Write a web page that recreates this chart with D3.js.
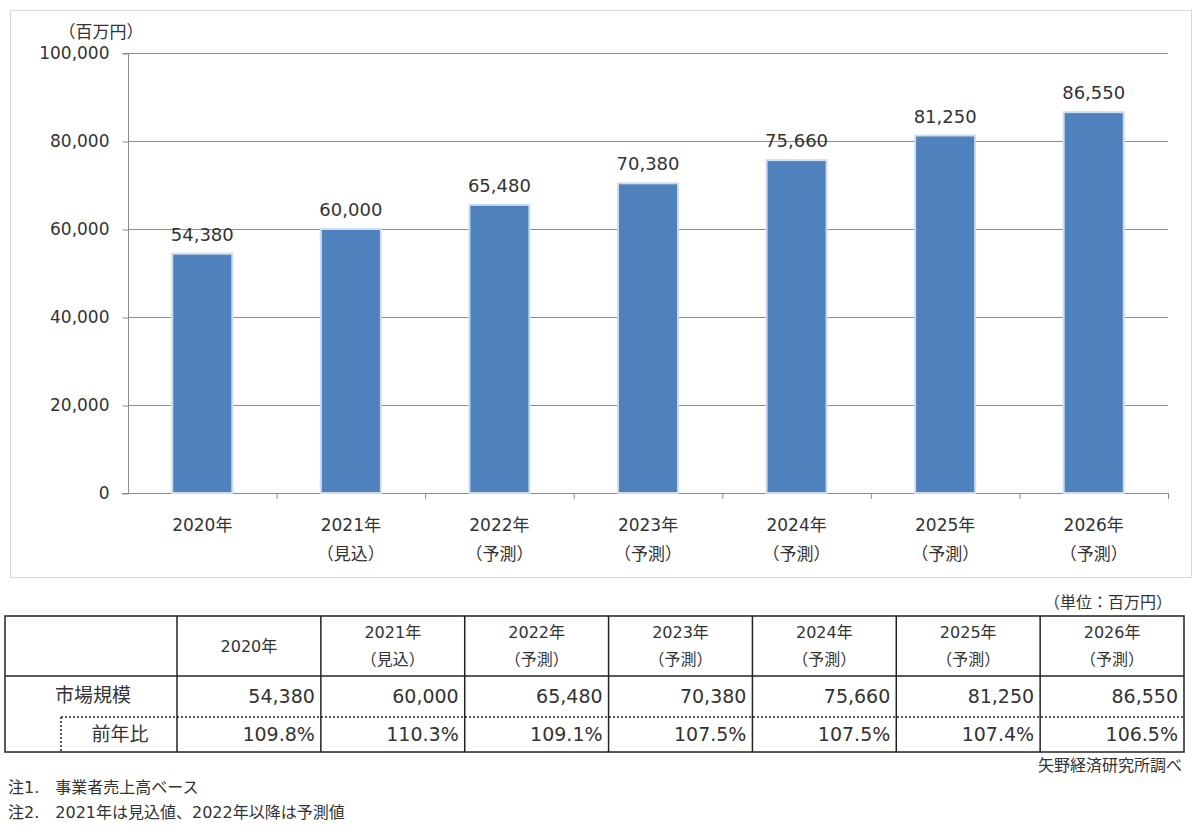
<!DOCTYPE html>
<html>
<head>
<meta charset="utf-8">
<script src="https://cdn.jsdelivr.net/npm/d3@7"></script>
<style>
  body { margin: 0; background: #fff; }
  text { font-family: "DejaVu Sans", "Noto Sans CJK JP", sans-serif; fill: #333; }
</style>
</head>
<body>
<div id="chart"></div>
<script>
// data
var years = ["2020年", "2021年", "2022年", "2023年", "2024年", "2025年", "2026年"];
var yearNotes = ["", "（見込）", "（予測）", "（予測）", "（予測）", "（予測）", "（予測）"];
var marketSize = [54380, 60000, 65480, 70380, 75660, 81250, 86550];
var yoy = ["109.8%", "110.3%", "109.1%", "107.5%", "107.5%", "107.4%", "106.5%"];
var yTicks = [0, 20000, 40000, 60000, 80000, 100000];
var notes = ["注1.\u3000事業者売上高ベース", "注2.\u30002021年は見込値、2022年以降は予測値"];

var svgWidth = 1200;
var svgHeight = 830;

var svg = d3.select("#chart")
  .append("svg")
  .attr("width", svgWidth)
  .attr("height", svgHeight);

// chart frame
svg.append("rect")
  .attr("x", 10.5).attr("y", 10.5)
  .attr("width", 1181).attr("height", 567)
  .attr("fill", "#fff")
  .attr("stroke", "#d9d9d9");

var plot = { left: 128, right: 1168, top: 53, bottom: 493 };

var x = d3.scaleBand()
  .domain(years)
  .range([plot.left, plot.right]);

var y = d3.scaleLinear()
  .domain([0, 100000])
  .range([plot.bottom, plot.top]);

// gridlines
svg.append("g").selectAll("line")
  .data(yTicks.filter(d => d > 0))
  .enter()
  .append("line")
  .attr("x1", plot.left).attr("x2", plot.right)
  .attr("y1", d => y(d) + 0.5).attr("y2", d => y(d) + 0.5)
  .attr("stroke", "#8c8c8c");

// y axis
var leftAxis = d3.axisLeft(y)
  .tickValues(yTicks)
  .tickSize(6)
  .tickPadding(13)
  .tickFormat(d3.format(","));
var yAxisG = svg.append("g")
  .attr("transform", `translate(${plot.left + 0.5},0.5)`)
  .call(leftAxis);
yAxisG.select(".domain").attr("stroke", "#8c8c8c").attr("d", `M-6,${plot.top}H0V${plot.bottom}`);
yAxisG.selectAll(".tick line").attr("stroke", "#8c8c8c");
yAxisG.selectAll(".tick text")
  .attr("font-size", 17)
  .attr("fill", "#333")
  .style("font-family", "'DejaVu Sans', sans-serif");

// x axis baseline with boundary ticks
var xAxisG = svg.append("g");
xAxisG.append("line")
  .attr("x1", plot.left - 6).attr("x2", plot.right)
  .attr("y1", plot.bottom + 0.5).attr("y2", plot.bottom + 0.5)
  .attr("stroke", "#8c8c8c");
xAxisG.selectAll("line.bound")
  .data(years)
  .enter()
  .append("line")
  .attr("class", "bound")
  .attr("x1", d => x(d) + x.bandwidth() + 0.5)
  .attr("x2", d => x(d) + x.bandwidth() + 0.5)
  .attr("y1", plot.bottom).attr("y2", plot.bottom + 6)
  .attr("stroke", "#8c8c8c");

// x labels
var xl = svg.append("g").selectAll("g")
  .data(years)
  .enter()
  .append("g")
  .attr("transform", d => `translate(${x(d) + x.bandwidth() / 2},0)`);
xl.append("text")
  .attr("y", 531)
  .attr("text-anchor", "middle")
  .attr("font-size", 17)
  .text(d => d);
xl.append("text")
  .attr("y", 560)
  .attr("text-anchor", "middle")
  .attr("font-size", 17)
  .text((d, i) => yearNotes[i]);

// unit label
svg.append("text")
  .attr("x", 101).attr("y", 38)
  .attr("text-anchor", "middle")
  .attr("font-size", 17)
  .text("（百万円）");

// bars
var barW = 60;
svg.append("g").selectAll("rect")
  .data(marketSize)
  .enter()
  .append("rect")
  .attr("x", (d, i) => x(years[i]) + x.bandwidth() / 2 - barW / 2)
  .attr("y", d => y(d))
  .attr("width", barW)
  .attr("height", d => y(0) - y(d))
  .attr("fill", "#4f81bd")
  .attr("stroke", "#cfdcec")
  .attr("stroke-width", 2);

// value labels
svg.append("g").selectAll("text")
  .data(marketSize)
  .enter()
  .append("text")
  .attr("x", (d, i) => x(years[i]) + x.bandwidth() / 2)
  .attr("y", d => y(d) - 13)
  .attr("text-anchor", "middle")
  .attr("font-size", 18)
  .text(d => d3.format(",")(d));

// table
var tbl = { left: 5, firstCol: 177, right: 1184, top: 616, head: 676, mid: 717, bottom: 752 };
var col = d3.scaleBand()
  .domain(years)
  .range([tbl.firstCol, tbl.right]);

svg.append("text")
  .attr("x", 1172).attr("y", 608)
  .attr("text-anchor", "end")
  .attr("font-size", 16)
  .text("（単位：百万円）");

var tg = svg.append("g");
tg.append("rect")
  .attr("x", tbl.left).attr("y", tbl.top)
  .attr("width", tbl.right - tbl.left).attr("height", tbl.bottom - tbl.top)
  .attr("fill", "none").attr("stroke", "#222").attr("stroke-width", 1.5);
tg.append("line")
  .attr("x1", tbl.left).attr("x2", tbl.right)
  .attr("y1", tbl.head).attr("y2", tbl.head)
  .attr("stroke", "#222").attr("stroke-width", 1.5);
tg.selectAll("line.col")
  .data(years)
  .enter()
  .append("line")
  .attr("class", "col")
  .attr("x1", d => col(d)).attr("x2", d => col(d))
  .attr("y1", tbl.top).attr("y2", tbl.bottom)
  .attr("stroke", "#222").attr("stroke-width", 1.5);
tg.append("line")
  .attr("x1", 61).attr("x2", tbl.right)
  .attr("y1", tbl.mid).attr("y2", tbl.mid)
  .attr("stroke", "#222").attr("stroke-width", 1.5)
  .attr("stroke-dasharray", "2,2");
tg.append("line")
  .attr("x1", 61).attr("x2", 61)
  .attr("y1", tbl.mid).attr("y2", tbl.bottom)
  .attr("stroke", "#222").attr("stroke-width", 1.5)
  .attr("stroke-dasharray", "2,2");

// header
var hd = tg.selectAll("g.hd")
  .data(years)
  .enter()
  .append("g")
  .attr("class", "hd")
  .attr("transform", d => `translate(${col(d) + col.bandwidth() / 2},0)`);
hd.append("text")
  .attr("y", (d, i) => yearNotes[i] ? 638 : 652)
  .attr("text-anchor", "middle")
  .attr("font-size", 16)
  .text(d => d);
hd.append("text")
  .attr("y", 665)
  .attr("text-anchor", "middle")
  .attr("font-size", 16)
  .text((d, i) => yearNotes[i]);

// row labels
tg.append("text")
  .attr("x", 93).attr("y", 702)
  .attr("text-anchor", "middle")
  .attr("font-size", 19)
  .text("市場規模");
tg.append("text")
  .attr("x", 120).attr("y", 741)
  .attr("text-anchor", "middle")
  .attr("font-size", 19)
  .text("前年比");

// row values
tg.selectAll("text.v1")
  .data(marketSize)
  .enter()
  .append("text")
  .attr("class", "v1")
  .attr("x", (d, i) => col(years[i]) + col.bandwidth() - 6)
  .attr("y", 703)
  .attr("text-anchor", "end")
  .attr("font-size", 19)
  .text(d => d3.format(",")(d));
tg.selectAll("text.v2")
  .data(yoy)
  .enter()
  .append("text")
  .attr("class", "v2")
  .attr("x", (d, i) => col(years[i]) + col.bandwidth() - 6)
  .attr("y", 741)
  .attr("text-anchor", "end")
  .attr("font-size", 19)
  .text(d => d);

// source
svg.append("text")
  .attr("x", 1182).attr("y", 771)
  .attr("text-anchor", "end")
  .attr("font-size", 16)
  .text("矢野経済研究所調べ");

// notes
svg.append("g").selectAll("text")
  .data(notes)
  .enter()
  .append("text")
  .attr("x", 8)
  .attr("y", (d, i) => 793 + i * 25)
  .attr("font-size", 16)
  .text(d => d);
</script>
</body>
</html>
